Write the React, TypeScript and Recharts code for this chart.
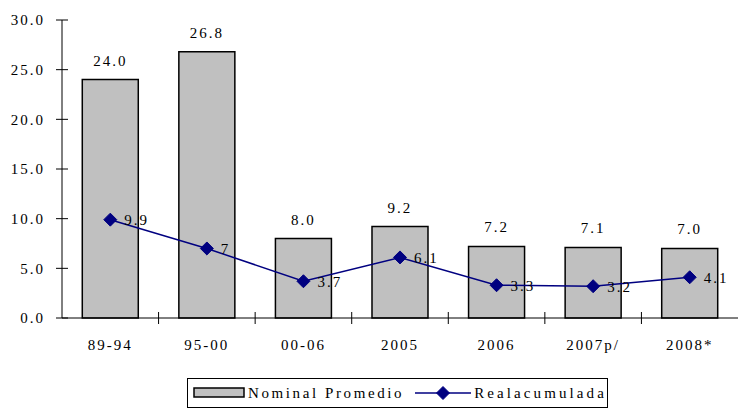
import React from "react";
import {
  ComposedChart,
  Bar,
  Line,
  XAxis,
  YAxis,
  Legend,
  LabelList,
} from "recharts";

const categories = ["89-94", "95-00", "00-06", "2005", "2006", "2007p/", "2008*"];
const nominal = [24.0, 26.8, 8.0, 9.2, 7.2, 7.1, 7.0];
const real = [9.9, 7, 3.7, 6.1, 3.3, 3.2, 4.1];
const yTicks = [0, 5, 10, 15, 20, 25, 30];

const data = categories.map((name, i) => ({
  name,
  nominal: nominal[i],
  real: real[i],
}));

const FONT = "'Liberation Serif', 'Times New Roman', serif";
const textStyle = { fontFamily: FONT, fontSize: 15, letterSpacing: 2, fill: "#000" };

const Diamond = (props: any) => {
  const { cx, cy } = props;
  if (cx == null || cy == null) return null;
  const r = 6.5;
  return (
    <polygon
      points={`${cx},${cy - r} ${cx + r},${cy} ${cx},${cy + r} ${cx - r},${cy}`}
      fill="#000080"
      stroke="#000080"
    />
  );
};

// category label plus a crossing tick at the right edge of each band
const XTick = (props: any) => {
  const { x, y, payload, index } = props;
  const half = payload && payload.offset ? payload.offset : 0;
  const axisY = y - 21;
  return (
    <g>
      {half > 0 && index < categories.length - 1 && (
        <line x1={x + half} x2={x + half} y1={axisY - 6} y2={axisY + 6} stroke="#000" />
      )}
      <text x={x} y={y} dy="0.71em" textAnchor="middle" style={textStyle}>
        {payload.value}
      </text>
    </g>
  );
};

const LegendBox = (props: any) => {
  const items = props.payload || [];
  const bar = items.find((p: any) => p.dataKey === "nominal");
  const line = items.find((p: any) => p.dataKey === "real");
  return (
    <div
      style={{
        display: "flex",
        alignItems: "center",
        border: "1px solid #000",
        height: 30,
        boxSizing: "border-box",
        fontFamily: FONT,
        fontSize: 15,
        letterSpacing: 2.6,
        color: "#000",
        paddingLeft: 5,
        background: "#fff",
      }}
    >
      <svg width={52} height={12} style={{ marginRight: 3 }}>
        <rect x={1} y={1} width={50} height={9} fill="#C0C0C0" stroke="#000" strokeWidth={1.5} />
      </svg>
      <span>{bar ? bar.value : ""}</span>
      <svg width={56} height={14} style={{ marginLeft: 11, marginRight: 3 }}>
        <line x1={0} x2={56} y1={7} y2={7} stroke="#000080" strokeWidth={1.5} />
        <Diamond cx={28} cy={7} />
      </svg>
      <span style={{ letterSpacing: 3.1 }}>{line ? line.value : ""}</span>
    </div>
  );
};

export default function App() {
  return (
    <div style={{ position: "absolute", left: 0, top: 0, background: "#fff" }}>
      <ComposedChart
        width={738}
        height={409}
        data={data}
        barCategoryGap="21%"
        margin={{ top: 20, right: 0, left: 0, bottom: 1 }}
      >
        <XAxis
          dataKey="name"
          axisLine={{ stroke: "#000" }}
          tickLine={false}
          tickSize={0}
          tickMargin={21}
          height={60}
          interval={0}
          tick={<XTick />}
        />
        <YAxis
          domain={[0, 30]}
          ticks={yTicks}
          width={62}
          tickFormatter={(v: number) => v.toFixed(1)}
          axisLine={{ stroke: "#000" }}
          tickLine={{ stroke: "#000", transform: "translate(6,0)" }}
          tickSize={12}
          tickMargin={5}
          tick={textStyle}
        />
        <Legend
          verticalAlign="bottom"
          content={<LegendBox />}
          wrapperStyle={{ left: 187, bottom: 1, width: 421 }}
        />
        <Bar
          dataKey="nominal"
          name="Nominal Promedio"
          fill="#C0C0C0"
          stroke="#000"
          strokeWidth={1.5}
          isAnimationActive={false}
        >
          <LabelList dataKey="nominal" position="top" offset={14} formatter={(v: any) => Number(v).toFixed(1)} style={textStyle} />
        </Bar>
        <Line
          dataKey="real"
          name="Realacumulada"
          stroke="#000080"
          strokeWidth={1.5}
          dot={<Diamond />}
          activeDot={false}
          isAnimationActive={false}
        >
          <LabelList dataKey="real" position="right" offset={14} style={textStyle} />
        </Line>
      </ComposedChart>
    </div>
  );
}
